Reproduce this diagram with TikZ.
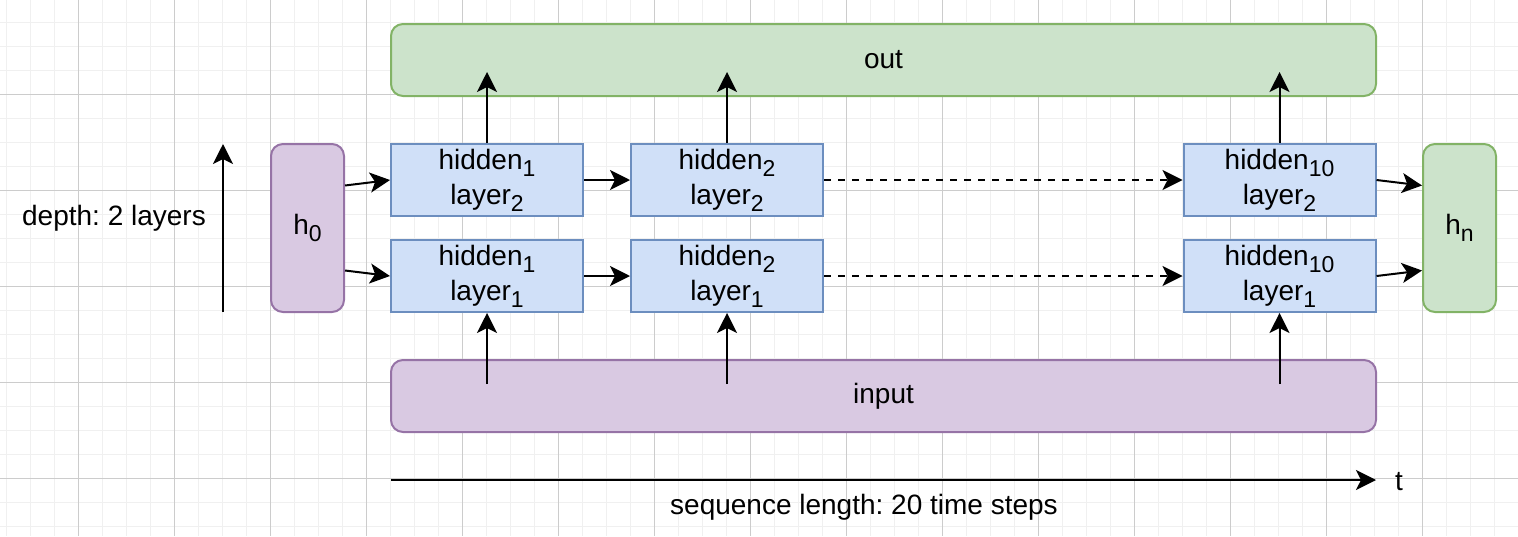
\documentclass[tikz,border=0pt]{standalone}
\usepackage{fontspec}
\setmainfont{Liberation Sans}
\usetikzlibrary{arrows.meta,calc}
\definecolor{bluefill}{RGB}{208,224,248}
\definecolor{blueline}{RGB}{108,142,191}
\definecolor{greenfill}{RGB}{204,227,203}
\definecolor{greenline}{RGB}{130,179,102}
\definecolor{purplefill}{RGB}{217,201,226}
\definecolor{purpleline}{RGB}{150,115,166}
\tikzset{arrow/.style={-{Stealth[length=10pt,width=10pt,inset=2.5pt]}, line width=1pt}}
\tikzset{dashed-arrow/.style={arrow, dash pattern=on 3.5pt off 3.5pt}}
\tikzset{cell/.style={draw=blueline, fill=bluefill, line width=1pt, minimum width=96pt, minimum height=36pt, align=center, inner sep=0pt}}
\tikzset{state/.style={line width=1pt, rounded corners=6pt, minimum width=36.5pt, minimum height=84pt, inner sep=0pt}}
\tikzset{band/.style={line width=1pt, rounded corners=6pt, minimum width=492.5pt, minimum height=36pt, inner sep=0pt}}
\newcommand{\low}[1]{\raisebox{-3.5pt}{\fontsize{11.5}{11.5}\selectfont #1}}

\begin{document}
\frenchspacing
\begin{tikzpicture}[x=0.5pt, y=-0.5pt, font=\fontsize{14}{17.5}\selectfont]
      \useasboundingbox (0,0) rectangle (1518,536);
      % grid
      \foreach \x in {6,30,...,1518} \draw[black!6, line width=0.5pt] (\x,0) -- (\x,536);
      \foreach \y in {22,46,...,536} \draw[black!6, line width=0.5pt] (0,\y) -- (1518,\y);
      \foreach \x in {78,174,...,1518} \draw[black!20, line width=0.5pt] (\x,0) -- (\x,536);
      \foreach \y in {94,190,...,536} \draw[black!20, line width=0.5pt] (0,\y) -- (1518,\y);

      \node[state, draw=purpleline, fill=purplefill] (h0) at (307.5, 228) {h\low{0}};
      \node[state, draw=greenline, fill=greenfill] (hn) at (1459.5, 228) {h\low{n}};
      \node[band, draw=greenline, fill=greenfill] (out) at (883.5, 60) {out};
      \node[band, draw=purpleline, fill=purplefill] (input) at (883.5, 396) {input};

      \foreach \x/\i in {487/1, 727/2, 1279.5/10}
        \foreach \l/\y in {1/276, 2/180}
          \node[cell] (c\i-\l) at (\x, \y) {hidden\low{\i}\\layer\low{\l}};

      \foreach \i in {1, 2, 10} {
        \draw[arrow] ($(c\i-1 |- input.center)+(0,-12)$) -- (c\i-1.south);
        \draw[arrow] (c\i-2.north) -- ($(c\i-2 |- out.center)+(0,12)$);
      }
      \foreach \l in {1, 2} {
        \draw[arrow] (c1-\l) -- (c2-\l);
        \draw[dashed-arrow] (c2-\l) -- (c10-\l);
      }

      \draw[arrow] ($(h0.north east)!0.25!(h0.south east)$) -- (c1-2.west);
      \draw[arrow] ($(h0.north east)!0.75!(h0.south east)$) -- (c1-1.west);
      \draw[arrow] (c10-2.east) -- ($(hn.north west)!0.25!(hn.south west)$);
      \draw[arrow] (c10-1.east) -- ($(hn.north west)!0.75!(hn.south west)$);

      % depth and time axes
      \coordinate (d0) at (223, 312);
      \coordinate (d1) at (223, 144);
      \draw[arrow] (d0) -- (d1);
      \node (depth) at (114, 218) {depth: 2 layers};

      \coordinate (t0) at (391, 480);
      \coordinate (t1) at (1376, 480);
      \draw[arrow] (t0) -- (t1);
      \node (t) at (1399, 482) {t};
      \node (seq) at (864, 507) {sequence length: 20 time steps};
    \end{tikzpicture}
\end{document}
